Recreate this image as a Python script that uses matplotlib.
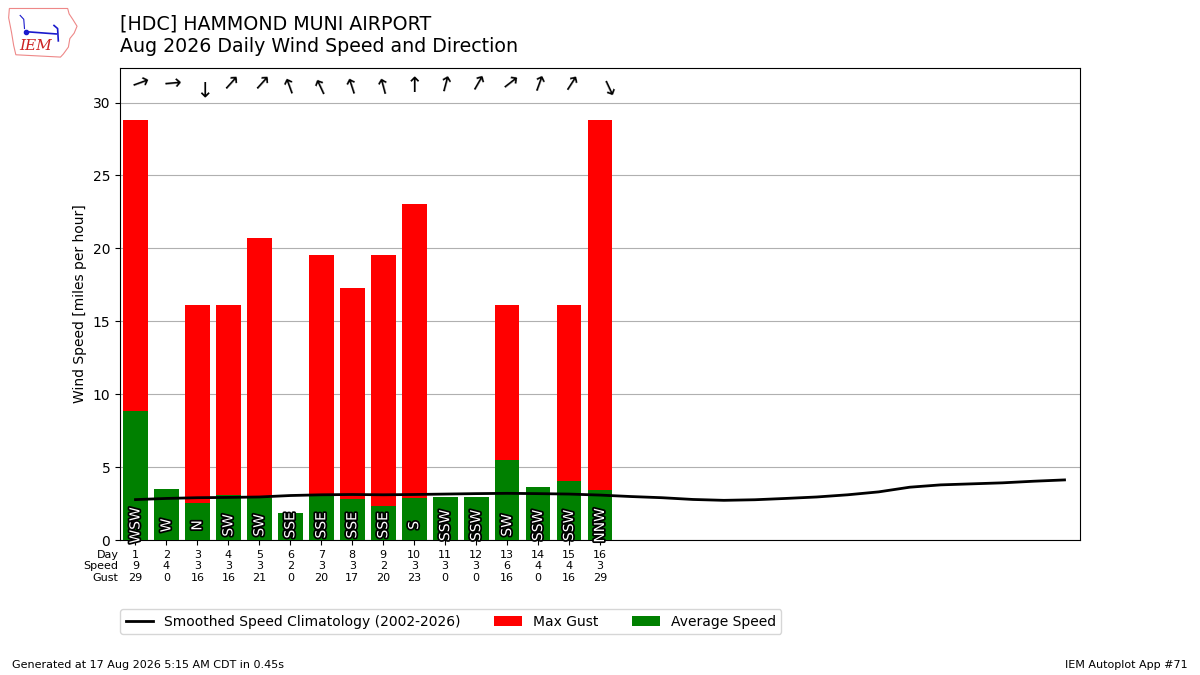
"""
Daily wind speed / direction chart for one station-month (IEM autoplot #71 style).
"""

import matplotlib
matplotlib.use("Agg")
import matplotlib.pyplot as plt
import matplotlib.patheffects as PathEffects
from matplotlib.patches import Polygon

# ── Data ──────────────────────────────────────────────────────────────────────
DAYS      = list(range(1, 17))
AVG_SPEED = [8.87, 3.51, 2.54, 3.07, 2.91, 1.86, 3.00, 2.82,
             2.36, 2.91, 2.96, 2.96, 5.52, 3.65, 4.06, 3.46]
MAX_GUST  = [28.77, 0, 16.11, 16.11, 20.71, 0, 19.56, 17.26,
             19.56, 23.02, 0, 0, 16.11, 0, 16.11, 28.77]
DIR_TEXT  = ["WSW", "W", "N", "SW", "SW", "SSE", "SSE", "SSE",
             "SSE", "S", "SSW", "SSW", "SW", "SSW", "SSW", "NNW"]
DIR_DEG   = [250, 265, 0, 222, 222, 160, 155, 162,
             165, 180, 195, 210, 232, 200, 213, 335]

CLIMO_DAYS  = list(range(1, 32))
CLIMO_SPEED = [2.77, 2.85, 2.90, 2.92, 2.95, 3.05, 3.10, 3.12, 3.10, 3.12,
               3.15, 3.18, 3.20, 3.18, 3.15, 3.08, 2.98, 2.90, 2.78, 2.72,
               2.76, 2.85, 2.95, 3.10, 3.30, 3.62, 3.78, 3.85, 3.92, 4.03,
               4.12]

TITLE   = "[HDC] HAMMOND MUNI AIRPORT\nAug 2026 Daily Wind Speed and Direction"
FOOTER  = "Generated at 17 Aug 2026 5:15 AM CDT in 0.45s"
APP     = "IEM Autoplot App #71"

# ── Figure ────────────────────────────────────────────────────────────────────
fig = plt.figure(figsize=(12, 6.75), dpi=100)
ax = fig.add_axes([0.1, 0.2, 0.8, 0.7])

ax.bar(DAYS, MAX_GUST, width=0.8, color="red", label="Max Gust", zorder=2)
ax.bar(DAYS, AVG_SPEED, width=0.8, color="green", label="Average Speed", zorder=3)
ax.plot(CLIMO_DAYS, CLIMO_SPEED, color="k", lw=2, zorder=4,
        label="Smoothed Speed Climatology (2002-2026)")

for d, txt, deg in zip(DAYS, DIR_TEXT, DIR_DEG):
    t = ax.text(d, 1.0, txt, rotation=90, ha="center", va="center",
                color="white", fontsize=10, zorder=5)
    t.set_path_effects([PathEffects.withStroke(linewidth=2.5, foreground="k")])
    # arrow points where the wind blows to
    ax.text(d, 31.1, "\u2191", rotation=-(deg + 180), ha="center", va="center",
            fontsize=15, zorder=5)

ax.set_xlim(0.5, 31.5)
ax.set_ylim(0, 32.4)
ax.set_xticks(DAYS)
ax.set_xticklabels([f"{d}\n{round(s):.0f}\n{round(g):.0f}"
                    for d, s, g in zip(DAYS, AVG_SPEED, MAX_GUST)], fontsize=8)
ax.annotate("Day\nSpeed\nGust", xy=(0, 0), xycoords="axes fraction",
            xytext=(-1, -7), textcoords="offset points",
            ha="right", va="top", fontsize=8)
ax.set_ylabel("Wind Speed [miles per hour]")
ax.grid(True, axis="y", zorder=0)
ax.set_axisbelow(True)

ax.legend(loc="upper left", bbox_to_anchor=(0, -0.146), ncol=3,
          borderaxespad=0, fontsize=10, columnspacing=2.4)

fig.text(0.1, 0.978, TITLE, ha="left", va="top", fontsize=13.7)
fig.text(0.01, 0.01, FOOTER, fontsize=8)
fig.text(0.99, 0.01, APP, fontsize=8, ha="right")

# ── Logo (rough) ──────────────────────────────────────────────────────────────
lax = fig.add_axes([0.006, 0.912, 0.06, 0.08])
lax.set_xlim(0, 10)
lax.set_ylim(0, 7)
lax.axis("off")
iowa = [(0.3, 6.6), (8.4, 6.6), (8.6, 5.9), (9.1, 5.2), (9.7, 4.3),
        (9.3, 3.4), (8.7, 2.7), (8.5, 1.6), (7.8, 0.7), (7.4, 0.3),
        (1.2, 0.6), (0.9, 1.8), (0.6, 3.5), (0.2, 5.4)]
lax.add_patch(Polygon(iowa, closed=True, fill=False, ec="#e88", lw=0.8))
lax.plot([2.5, 6.8], [3.6, 3.3], color="#1a1acc", lw=1.2)
lax.plot([2.6], [3.6], "o", color="#1a1acc", ms=3)
lax.plot([6.5, 7.0, 7.1], [4.4, 4.0, 2.4], color="#1a1acc", lw=1.2)
lax.plot([1.8, 2.3, 2.4], [5.7, 5.2, 4.0], color="#1a1acc", lw=0.8)
lax.text(4.0, 1.7, "IEM", color="#cc2222", fontsize=11, fontstyle="italic",
         family="serif", ha="center", va="center")

fig.savefig("out.png", dpi=100)
